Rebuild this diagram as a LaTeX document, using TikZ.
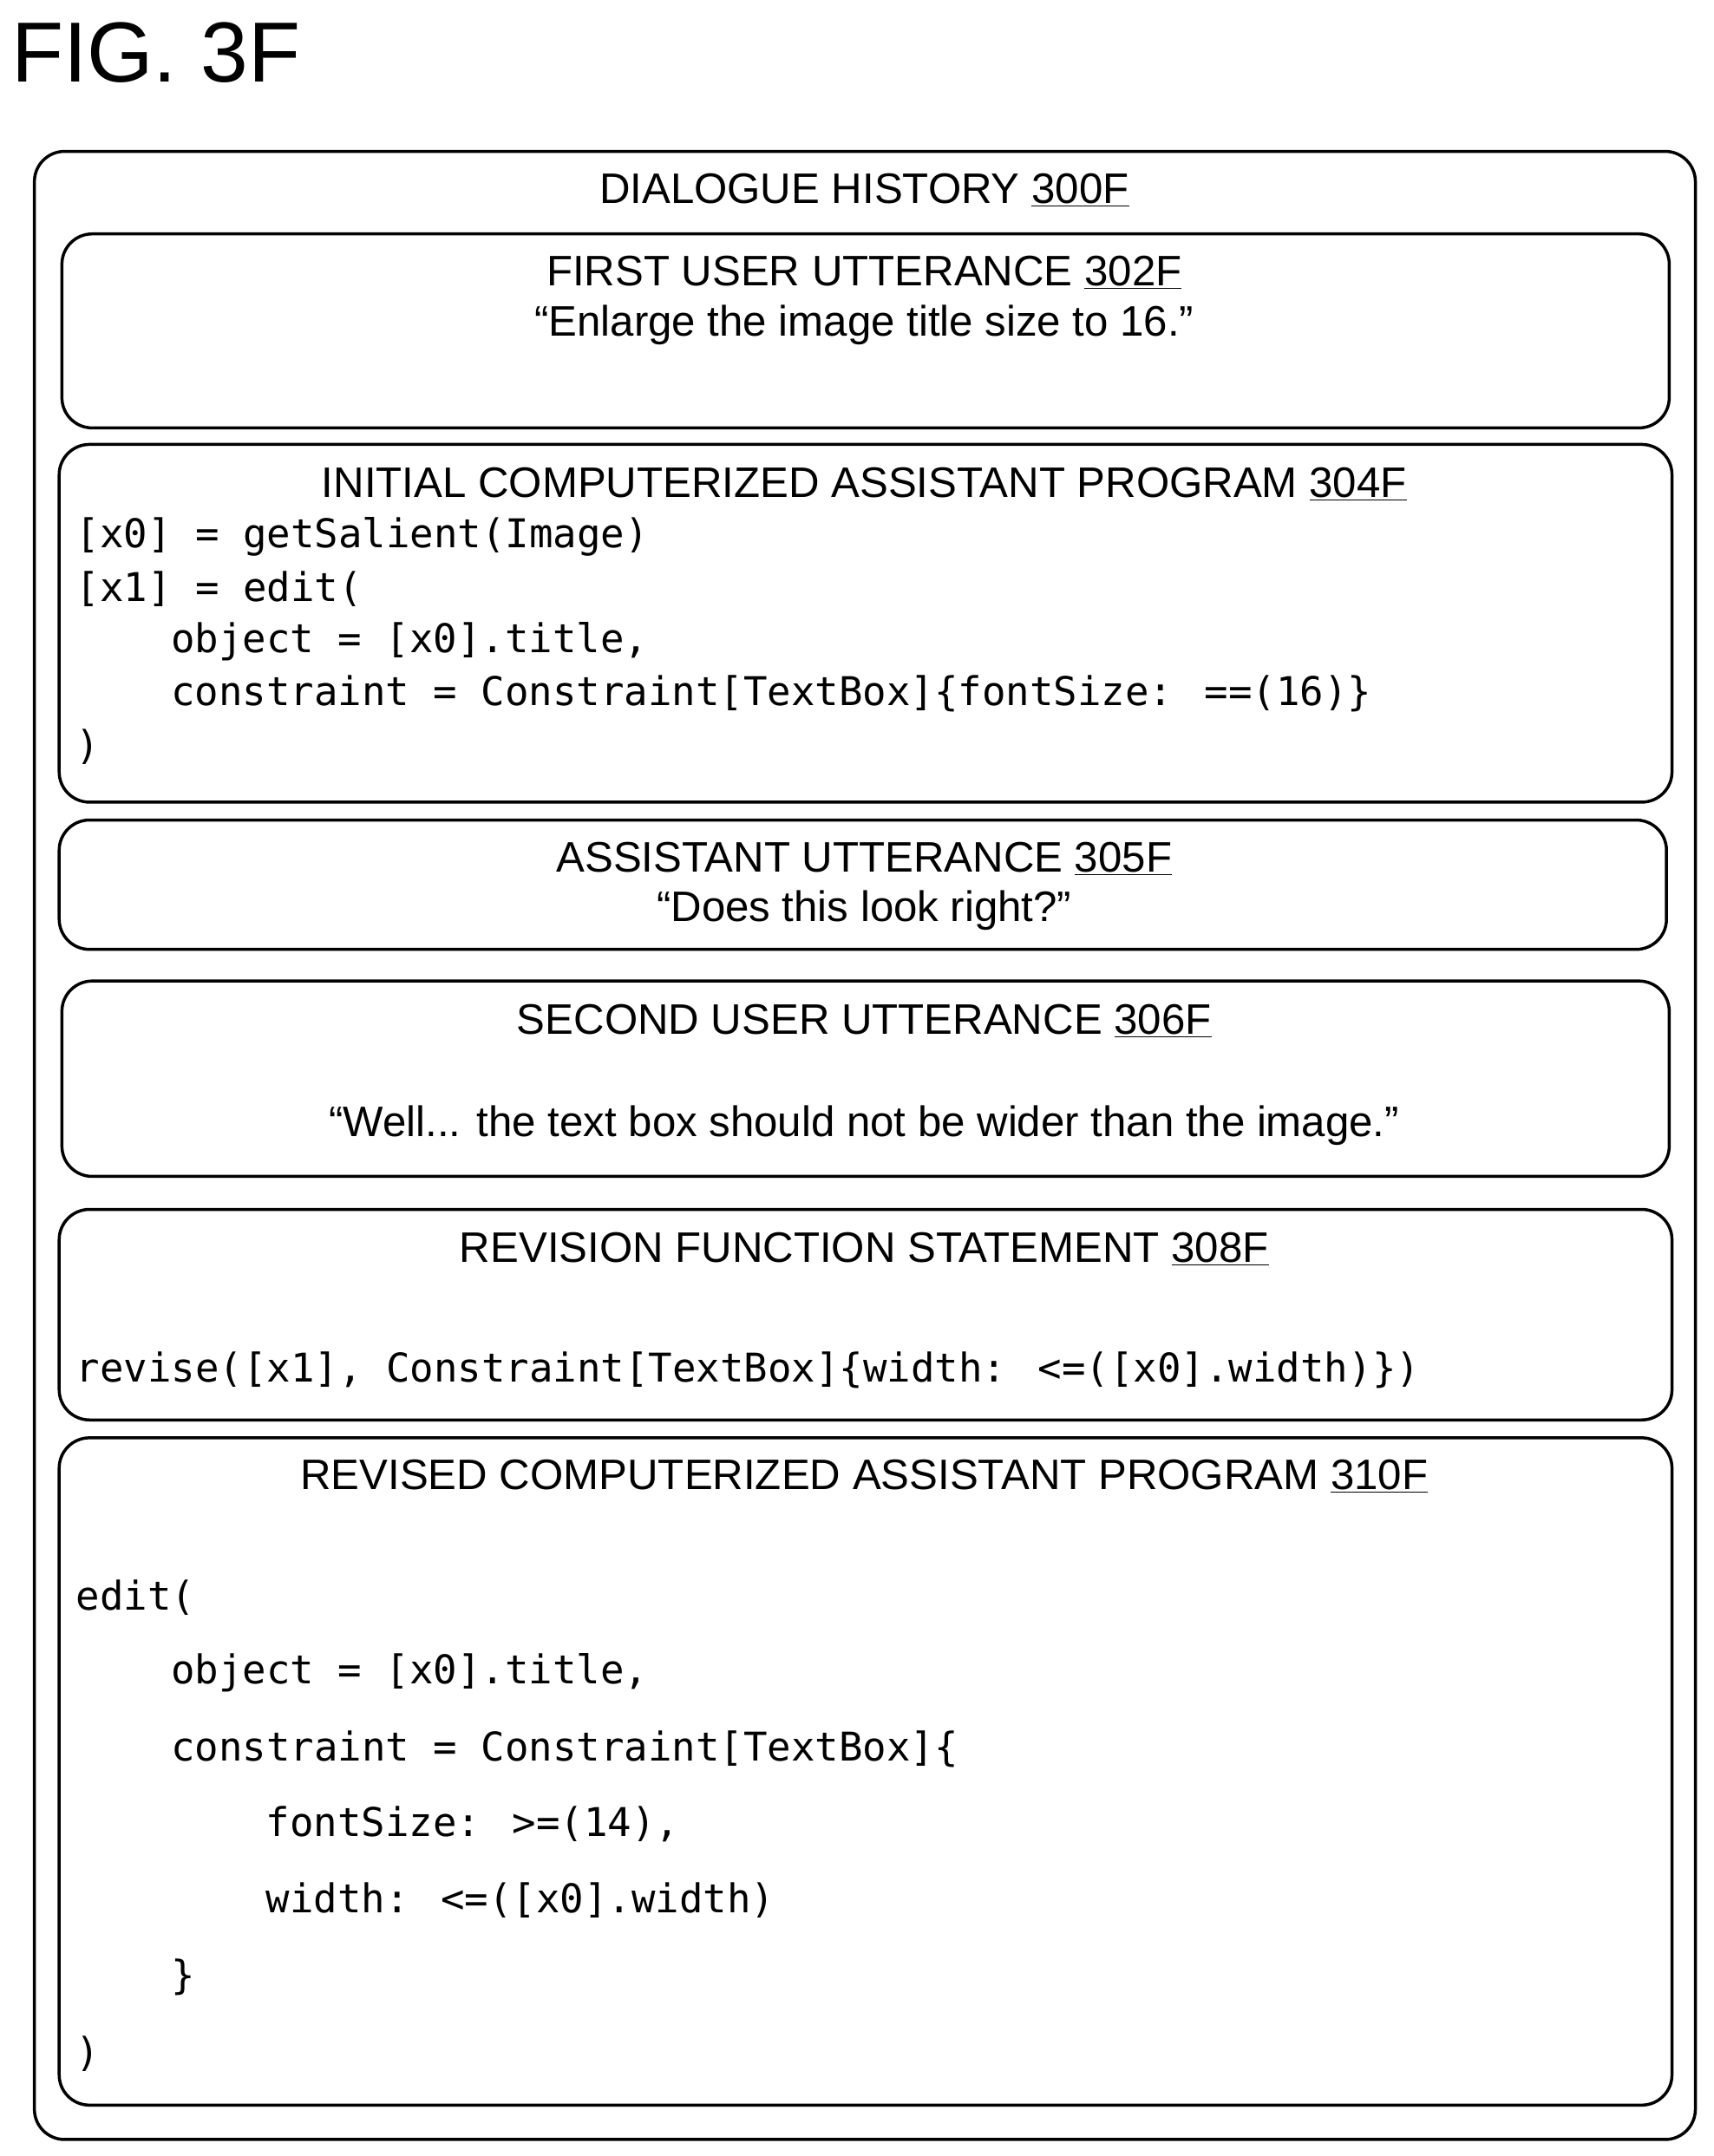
\documentclass[tikz,border=0pt]{standalone}
\usepackage{fontspec}
\setmainfont{Liberation Sans}
\newfontfamily\codefont{DejaVu Sans Mono}
\begin{document}
\begin{tikzpicture}[x=1pt,y=-1pt,
  box/.style={draw,line width=2.2pt,rounded corners=22pt},
  lbl/.style={font=\fontsize{31}{34}\selectfont,inner sep=0pt,anchor=center},
  code/.style={font=\codefont\fontsize{28.8}{31}\selectfont,inner sep=0pt,anchor=west}]
\useasboundingbox (0,0) rectangle (1245,1567);
\node[font=\fontsize{62}{66}\selectfont,anchor=west,inner sep=0pt] (fig) at (8,38) {FIG. 3F};
\draw[box] (25,110) rectangle (1232,1555);
\node[lbl] (t0) at (628,138) {DIALOGUE HISTORY \underline{300F}};
\draw[box] (45,170) rectangle (1213,311);
\node[lbl] (t1) at (628,198) {FIRST USER UTTERANCE \underline{302F}};
\node[lbl] (u1) at (628,236) {“Enlarge the image title size to 16.”};
\draw[box] (43,323) rectangle (1215,583);
\node[lbl] (t2) at (628,352) {INITIAL COMPUTERIZED ASSISTANT PROGRAM \underline{304F}};
\node[code] (c1) at (55,390) {[x0] = getSalient(Image)};
\node[code] (c2) at (55,428) {[x1] = edit(};
\node[code] (c3) at (124,466) {object = [x0].title,};
\node[code] (c4) at (124,504) {constraint = Constraint[TextBox]\{fontSize: ==(16)\}};
\node[code] (c5) at (55,543) {)};
\draw[box] (43,596) rectangle (1211,690);
\node[lbl] (t3) at (628,624) {ASSISTANT UTTERANCE \underline{305F}};
\node[lbl] (u3) at (628,662) {“Does this look right?”};
\draw[box] (45,713) rectangle (1213,855);
\node[lbl] (t4) at (628,742) {SECOND USER UTTERANCE \underline{306F}};
\node[lbl] (u4) at (628,818) {“Well... the text box should not be wider than the image.”};
\draw[box] (43,879) rectangle (1215,1032);
\node[lbl] (t5) at (628,908) {REVISION FUNCTION STATEMENT \underline{308F}};
\node[code] (r1) at (55,996) {revise([x1], Constraint[TextBox]\{width: <=([x0].width)\})};
\draw[box] (43,1045) rectangle (1215,1530);
\node[lbl] (t6) at (628,1073) {REVISED COMPUTERIZED ASSISTANT PROGRAM \underline{310F}};
\node[code] (d1) at (55,1161) {edit(};
\node[code] (d2) at (124,1216) {object = [x0].title,};
\node[code] (d3) at (124,1271) {constraint = Constraint[TextBox]\{};
\node[code] (d4) at (193,1326) {fontSize: >=(14),};
\node[code] (d5) at (193,1381) {width: <=([x0].width)};
\node[code] (d6) at (124,1437) {\}};
\node[code] (d7) at (55,1493) {)};
\end{tikzpicture}
\end{document}
